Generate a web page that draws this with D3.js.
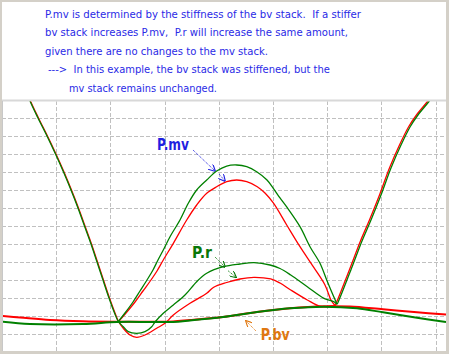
<!DOCTYPE html>
<html>
<head>
<meta charset="utf-8">
<script src="https://cdn.jsdelivr.net/npm/d3@7"></script>
<style>
  body { margin: 0; background: #fff; }
  svg { display: block; }
  text { white-space: pre; }
</style>
</head>
<body>
<div id="chart"></div>
<script>
const width = 449;
const height = 354;

// note lines above the plot
const noteLines = [
  "P.mv is determined by the stiffness of the bv stack.  If a stiffer",
  "bv stack increases P.mv,  P.r will increase the same amount,",
  "given there are no changes to the mv stack.",
  "--->  In this example, the bv stack was stiffened, but the",
  "mv stack remains unchanged."
];
const noteIndent = [45, 45, 45, 48, 69];
const noteWidth = [316, 303, 223, 282, 148];

// grid ticks (grid units)
const xTicks = [1, 2, 3, 4, 5, 6, 7, 8];
const yTicks = [1, 2, 3, 4, 5, 6, 7, 8, 9, 10, 11, 12, 13];

// curves, [x, y] in grid units
const rGreen = [
  [0.443, 14.556], [0.517, 13.94], [0.664, 13.0], [0.830, 12.0], [0.987, 11.0],
  [1.135, 10.0], [1.273, 9.0], [1.402, 8.0], [1.522, 7.0], [1.642, 6.0],
  [1.753, 5.0], [1.863, 4.0], [1.974, 3.0], [2.076, 2.167], [2.146, 1.694],
  [2.238, 1.406], [2.330, 1.128], [2.485, 1.039], [2.638, 1.128], [2.762, 1.406],
  [2.823, 1.667], [2.976, 2.15], [3.161, 2.611], [3.376, 3.167], [3.592, 3.906],
  [3.777, 4.372], [4.083, 4.739], [4.391, 4.889], [4.649, 4.961], [4.945, 4.833],
  [5.129, 4.639], [5.327, 4.278], [5.633, 3.628], [5.941, 2.983], [6.125, 2.794],
  [6.181, 2.667], [6.218, 2.889], [6.458, 4.722], [6.642, 6.167], [6.808, 7.333],
  [6.993, 8.722], [7.177, 10.222], [7.362, 11.5], [7.528, 12.5], [7.675, 13.167],
  [7.878, 13.917], [8.007, 14.444]
];
const rRed = [
  [0.452, 14.556], [0.526, 13.94], [0.673, 13.0], [0.839, 12.0], [0.996, 11.0],
  [1.144, 10.0], [1.282, 9.0], [1.411, 8.0], [1.531, 7.0], [1.651, 6.0],
  [1.762, 5.0], [1.872, 4.0], [1.983, 3.0], [2.085, 2.167], [2.150, 1.694],
  [2.238, 1.317], [2.362, 0.944], [2.485, 0.817], [2.638, 0.944], [2.854, 1.317],
  [3.007, 1.594], [3.161, 2.056], [3.469, 2.706], [3.777, 3.261], [3.899, 3.583],
  [4.146, 3.861], [4.391, 4.056], [4.649, 4.15], [4.958, 4.056], [5.129, 3.833],
  [5.327, 3.444], [5.633, 2.889], [5.880, 2.528], [6.089, 2.556], [6.144, 2.583],
  [6.190, 2.889], [6.430, 4.722], [6.614, 6.167], [6.780, 7.333], [6.965, 8.722],
  [7.149, 10.222], [7.334, 11.5], [7.500, 12.5], [7.647, 13.167], [7.850, 13.917],
  [7.979, 14.444]
];
const mvGreen = [
  [2.146, 1.694], [2.269, 2.167], [2.417, 2.778], [2.546, 3.389], [2.675, 4.0],
  [2.786, 4.556], [2.878, 5.111], [2.976, 5.667], [3.100, 6.406], [3.284, 7.333],
  [3.437, 8.261], [3.592, 9.0], [3.777, 9.556], [3.961, 10.056], [4.146, 10.333],
  [4.330, 10.389], [4.515, 10.294], [4.699, 10.017], [4.889, 9.556], [5.006, 9.094],
  [5.129, 8.556], [5.253, 8.056], [5.498, 6.961], [5.683, 5.85], [5.867, 4.928],
  [5.991, 4.0], [6.107, 3.167], [6.181, 2.667]
];
const mvRed = [
  [2.150, 1.694], [2.288, 2.167], [2.454, 2.778], [2.601, 3.389], [2.749, 4.0],
  [2.860, 4.5], [2.976, 5.111], [3.161, 6.039], [3.408, 7.333], [3.592, 8.167],
  [3.777, 8.817], [3.961, 9.183], [4.146, 9.461], [4.330, 9.556], [4.515, 9.461],
  [4.710, 9.183], [4.852, 8.833], [5.006, 8.278], [5.253, 7.056], [5.498, 5.85],
  [5.743, 4.739], [5.959, 3.722], [6.070, 2.889], [6.144, 2.583]
];
const bvGreen = [
  [0, 1.683], [0.517, 1.556], [1.494, 1.556], [2.122, 1.667], [2.731, 1.667],
  [3.155, 1.667], [3.469, 1.75], [4.077, 1.944], [4.705, 2.222], [5.314, 2.428],
  [5.941, 2.517], [6.550, 2.428], [7.030, 2.206], [7.657, 1.906], [8.192, 1.667]
];
const bvRed = [
  [0, 2.0], [0.332, 1.917], [0.886, 1.778], [1.494, 1.706], [2.122, 1.683],
  [2.731, 1.683], [3.155, 1.694], [3.469, 1.778], [4.077, 1.944], [4.705, 2.222],
  [5.314, 2.428], [5.941, 2.539], [6.421, 2.528], [7.030, 2.372], [7.657, 2.206],
  [8.192, 2.083]
];

// labels and their arrows (grid units)
const labels = [
  { text: "P.mv", x: 2.86, y: 11.22, color: "#1f1fe0", len: 32, size: 16,
    arrows: [[[3.524, 11.222], [3.930, 10.056]], [[4.004, 9.889], [4.114, 9.5]]] },
  { text: "P.r", x: 3.506, y: 5.222, color: "#087808", len: 20, size: 15,
    arrows: [[[3.930, 5.278], [4.114, 4.722]], [[4.170, 4.517], [4.317, 4.15]]] },
  { text: "P.bv", x: 4.773, y: 0.667, color: "#e07810", len: 29, size: 16,
    arrows: [[[4.686, 1.167], [4.502, 1.722]]] }
];

const plot = { left: 2, right: 446, top: 101, bottom: 352 };

const x = d3.scaleLinear().domain([0, 8.192]).range([plot.left, plot.right]);
const y = d3.scaleLinear().domain([0, 14]).range([352, 100]);

const svg = d3.select("#chart")
  .append("svg")
  .attr("width", width)
  .attr("height", height);

// frame
svg.append("rect")
  .attr("width", width).attr("height", height)
  .attr("fill", "#d4d0c8");
svg.append("rect")
  .attr("x", 2).attr("y", 2)
  .attr("width", 444).attr("height", 349)
  .attr("fill", "#fff");
svg.append("rect")
  .attr("x", 2).attr("y", 99.5)
  .attr("width", 444).attr("height", 2)
  .attr("fill", "#d8d8d8");
svg.append("line")
  .attr("x1", 2.5).attr("x2", 2.5)
  .attr("y1", 101).attr("y2", 351)
  .attr("stroke", "#c8c8c8");

// note text
svg.append("g")
  .selectAll("text")
  .data(noteLines)
  .enter()
  .append("text")
  .attr("x", (d, i) => noteIndent[i])
  .attr("y", (d, i) => 17.5 + i * 18.6)
  .attr("textLength", (d, i) => noteWidth[i])
  .attr("lengthAdjust", "spacingAndGlyphs")
  .attr("font-family", "DejaVu Sans, Verdana, sans-serif")
  .attr("font-size", 10.5)
  .attr("fill", "#2a2ae6")
  .text(d => d);

svg.append("clipPath")
  .attr("id", "clip")
  .append("rect")
  .attr("x", plot.left + 1).attr("y", plot.top + 0.5)
  .attr("width", plot.right - plot.left - 1)
  .attr("height", plot.bottom - plot.top - 1.5);

const g = svg.append("g").attr("clip-path", "url(#clip)");

// grid
g.selectAll(".vgrid")
  .data(xTicks)
  .enter()
  .append("line")
  .attr("x1", d => Math.round(x(d)) + 0.5)
  .attr("x2", d => Math.round(x(d)) + 0.5)
  .attr("y1", plot.top)
  .attr("y2", plot.bottom)
  .attr("stroke", "#c0c0c0")
  .attr("stroke-dasharray", "4,2");

g.selectAll(".hgrid")
  .data(yTicks)
  .enter()
  .append("line")
  .attr("x1", plot.left)
  .attr("x2", plot.right)
  .attr("y1", d => Math.round(y(d)) + 0.5)
  .attr("y2", d => Math.round(y(d)) + 0.5)
  .attr("stroke", "#c0c0c0")
  .attr("stroke-dasharray", "4,2");

const line = d3.line()
  .x(d => x(d[0]))
  .y(d => y(d[1]))
  .curve(d3.curveCatmullRom.alpha(0.5));

// reds underneath, greens on top (as in the picture)
const series = [
  { data: bvRed, color: "#ff0000", w: 2 },
  { data: rRed, color: "#ff0000", w: 1.3 },
  { data: mvRed, color: "#ff0000", w: 1.3 },
  { data: bvGreen, color: "#008000", w: 2 },
  { data: rGreen, color: "#008000", w: 1.3 },
  { data: mvGreen, color: "#008000", w: 1.3 }
];

g.selectAll(".curve")
  .data(series)
  .enter()
  .append("path")
  .attr("class", "curve")
  .attr("fill", "none")
  .attr("stroke", d => d.color)
  .attr("stroke-width", d => d.w)
  .attr("d", d => line(d.data));

// arrow markers
const defs = svg.append("defs");
labels.forEach((l, i) => {
  defs.append("marker")
    .attr("id", "head" + i)
    .attr("viewBox", "0 0 10 10")
    .attr("refX", 9).attr("refY", 5)
    .attr("markerWidth", 7).attr("markerHeight", 7)
    .attr("markerUnits", "userSpaceOnUse")
    .attr("orient", "auto")
    .append("path")
    .attr("d", "M0,0 L10,5 L0,10")
    .attr("fill", "none")
    .attr("stroke", l.color)
    .attr("stroke-width", 1.6);
});

const lab = svg.append("g");
labels.forEach((l, i) => {
  lab.append("text")
    .attr("x", x(l.x))
    .attr("y", y(l.y))
    .attr("textLength", l.len)
    .attr("lengthAdjust", "spacingAndGlyphs")
    .attr("font-family", "DejaVu Sans, Verdana, sans-serif")
    .attr("font-weight", "bold")
    .attr("font-size", l.size)
    .attr("fill", l.color)
    .text(l.text);

  lab.selectAll(".arr" + i)
    .data(l.arrows)
    .enter()
    .append("line")
    .attr("x1", d => x(d[0][0]))
    .attr("y1", d => y(d[0][1]))
    .attr("x2", d => x(d[1][0]))
    .attr("y2", d => y(d[1][1]))
    .attr("stroke", l.color)
    .attr("stroke-width", 1)
    .attr("stroke-dasharray", "1,1")
    .attr("marker-end", "url(#head" + i + ")");
});
</script>
</body>
</html>
